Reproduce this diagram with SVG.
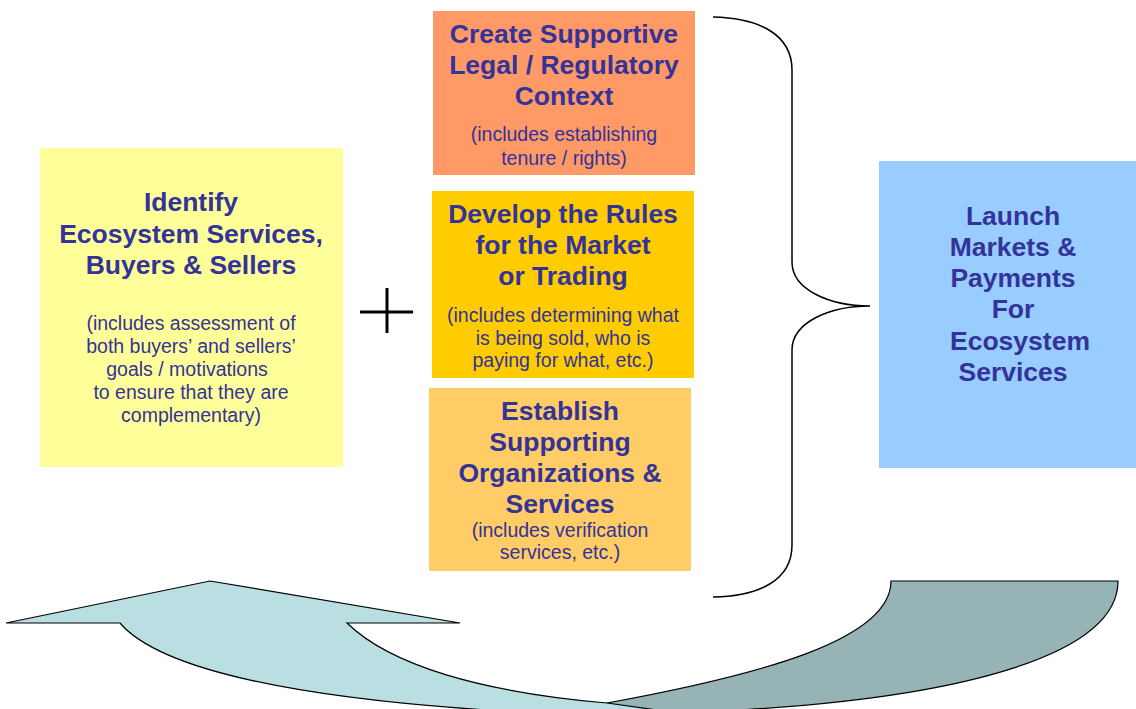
<svg xmlns="http://www.w3.org/2000/svg" width="1136" height="709" viewBox="0 0 1136 709">
<style>
.t{font-family:"Liberation Sans",Arial,sans-serif;font-weight:bold;font-size:26.5px;fill:#333399;text-anchor:middle}
.s{font-family:"Liberation Sans",Arial,sans-serif;font-size:19.5px;fill:#333399;text-anchor:middle}
.ln{fill:none;stroke:#000;stroke-width:1.5}
</style>
<rect width="1136" height="709" fill="#fff"/>
<g id="arrow-back">
<path d="M891,581 L1118,581 C1118,650 980,700 700,712 L590,716 L607,703 C760,675 891,640 891,581 Z" fill="#96B3B6" stroke="#000" stroke-width="1.2"/>
</g>
<g id="arrow-front">
<path d="M6,623 L210,581 L460,623 L347,623 C390,665 480,692 607,703 L700,716 L520,716 L520,712 C300,700 160,670 120,623 Z" fill="#B9DFE3" stroke="#000" stroke-width="1.2"/>
</g>
<g id="identify">
<rect x="40" y="148" width="303" height="319" fill="#FFFF99"/>
<text class="t" x="191" y="211">Identify</text>
<text class="t" x="191" y="243">Ecosystem Services,</text>
<text class="t" x="191" y="274">Buyers &amp; Sellers</text>
<text class="s" x="191" y="330">(includes assessment of</text>
<text class="s" x="191" y="353">both buyers’ and sellers’</text>
<text class="s" x="187" y="376">goals / motivations</text>
<text class="s" x="191" y="399">to ensure that they are</text>
<text class="s" x="191" y="422">complementary)</text>
</g>
<g id="plus">
<path d="M360,312 H413 M387,288 V333" stroke="#000" stroke-width="3" fill="none"/>
</g>
<g id="legal">
<rect x="433" y="11" width="262" height="164" fill="#FF9966"/>
<text class="t" x="564" y="43">Create Supportive</text>
<text class="t" x="564" y="74">Legal / Regulatory</text>
<text class="t" x="564" y="105">Context</text>
<text class="s" x="564" y="141">(includes establishing</text>
<text class="s" x="564" y="165">tenure / rights)</text>
</g>
<g id="rules">
<rect x="432" y="191" width="262" height="187" fill="#FFCC00"/>
<text class="t" x="563" y="223">Develop the Rules</text>
<text class="t" x="563" y="254">for the Market</text>
<text class="t" x="563" y="285">or Trading</text>
<text class="s" x="563" y="322">(includes determining what</text>
<text class="s" x="563" y="345">is being sold, who is</text>
<text class="s" x="563" y="367">paying for what, etc.)</text>
</g>
<g id="orgs">
<rect x="429" y="388" width="262" height="183" fill="#FFCC66"/>
<text class="t" x="560" y="420">Establish</text>
<text class="t" x="560" y="451">Supporting</text>
<text class="t" x="560" y="482">Organizations &amp;</text>
<text class="t" x="560" y="513">Services</text>
<text class="s" x="560" y="537">(includes verification</text>
<text class="s" x="560" y="559">services, etc.)</text>
</g>
<g id="launch">
<rect x="879" y="161" width="257" height="307" fill="#99CCFF"/>
<text class="t" x="1013" y="225">Launch</text>
<text class="t" x="1013" y="256">Markets &amp;</text>
<text class="t" x="1013" y="287">Payments</text>
<text class="t" x="1013" y="318">For</text>
<text class="t" x="1020" y="350">Ecosystem</text>
<text class="t" x="1013" y="381">Services</text>
</g>
<g id="connectors">
<path class="ln" d="M713,17 C760,18 792,35 792,70 V262 C792,290 830,306 870,306 C830,306 792,322 792,350 V545 C792,580 760,596 713,597"/>
</g>
</svg>
